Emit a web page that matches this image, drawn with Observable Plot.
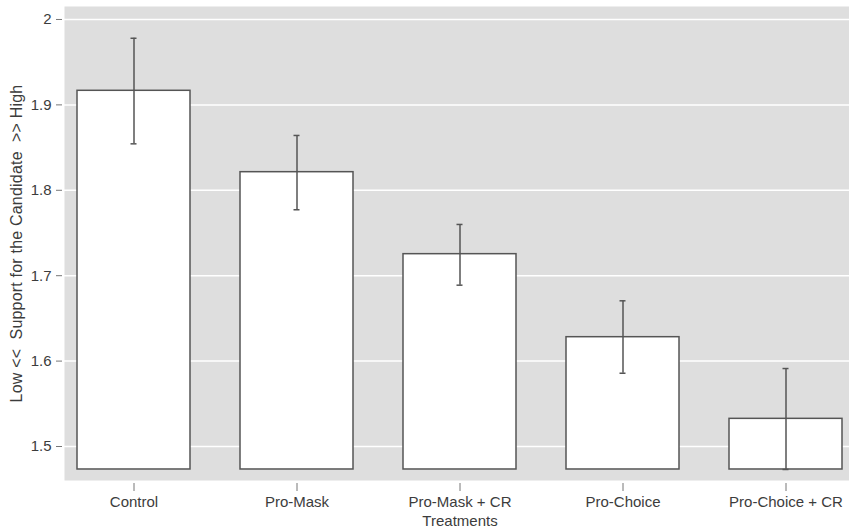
<!DOCTYPE html>
<html>
<head>
<meta charset="utf-8">
<script src="https://cdn.jsdelivr.net/npm/d3@7"></script>
<script src="https://cdn.jsdelivr.net/npm/@observablehq/plot@0.6"></script>
<style>
  body { margin: 0; background: #fff; }
  #chart svg { font-family: "Liberation Sans", Arial, sans-serif; white-space: pre; }
</style>
</head>
<body>
<div id="chart"></div>
<script>
// Mean support for the candidate by treatment, with confidence intervals
const treatments = ["Control", "Pro-Mask", "Pro-Mask + CR", "Pro-Choice", "Pro-Choice + CR"];
const means = [1.9165, 1.8212, 1.7252, 1.628, 1.5324];
const upper = [1.978, 1.8642, 1.760, 1.6706, 1.5913];
const lower = [1.8544, 1.7772, 1.6889, 1.5858, 1.4731];
const yTicks = [1.5, 1.6, 1.7, 1.8, 1.9, 2];
const barBase = 1.4731;
const yTitle = "Low <<  Support for the Candidate  >> High";

const data = treatments.map((t, i) => ({treatment: t, mean: means[i], lo: lower[i], hi: upper[i]}));

const ink = "#555";
const chart = Plot.plot({
  width: 849,
  height: 529,
  marginLeft: 64,
  marginRight: 0,
  marginTop: 6,
  marginBottom: 49,
  style: {fontSize: "15px", color: "#3c3c3c", background: "#fff"},
  x: {domain: treatments, range: [64, 855.5], paddingInner: 0.307, paddingOuter: 0.08, label: null},
  y: {domain: [1.4602, 2.0152], label: null},
  marks: [
    Plot.frame({fill: "#dedede", stroke: null}),
    Plot.gridY(yTicks, {stroke: "#fff", strokeOpacity: 1, strokeWidth: 1.5}),
    Plot.barY(data, {x: "treatment", y1: barBase, y2: "mean", fill: "#fff", stroke: ink, strokeWidth: 1.5}),
    Plot.ruleX(data, {x: "treatment", y1: "lo", y2: "hi", stroke: ink, strokeWidth: 1.5}),
    Plot.tickY(data, {x: "treatment", y: "hi", insetLeft: 53.5, insetRight: 53.5, stroke: ink, strokeWidth: 1.5}),
    Plot.tickY(data, {x: "treatment", y: "lo", insetLeft: 53.5, insetRight: 53.5, stroke: ink, strokeWidth: 1.5}),
    Plot.axisY(yTicks, {tickSize: 6, dx: -2, tickPadding: 5, tickFormat: d3.format("~g"), stroke: "#777", label: null}),
    Plot.axisX({tickSize: 8, dy: 3, tickPadding: 5, stroke: "#777", label: null}),
    Plot.text(["Treatments"], {frameAnchor: "bottom", dx: 3, dy: 41, lineAnchor: "middle"}),
    Plot.text([yTitle], {frameAnchor: "left", textAnchor: "middle", rotate: -90, dx: -48, fontSize: 16})
  ]
});
// slightly open up the rotated axis title
d3.select(chart).selectAll("text").filter(function () { return this.textContent === yTitle; })
  .style("letter-spacing", "0.2px");
document.getElementById("chart").append(chart);
</script>
</body>
</html>
